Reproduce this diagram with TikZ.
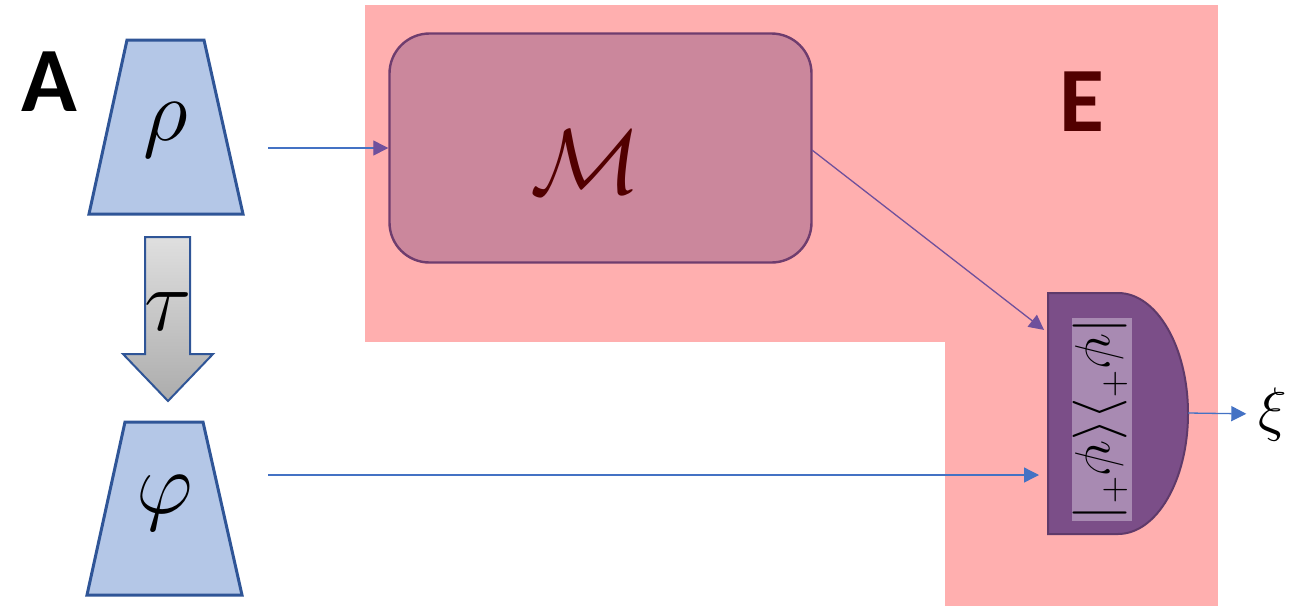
\RequirePackage{fix-cm}
\documentclass[tikz,border=0pt]{standalone}
\usepackage{fontspec}
\newfontfamily\labelfont{Carlito}
\usetikzlibrary{arrows.meta}

\definecolor{regionpink}{HTML}{FFAFAF}
\definecolor{trapfill}{HTML}{B4C7E7}
\definecolor{trapline}{HTML}{2F5597}
\definecolor{mapfill}{HTML}{CB879C}
\definecolor{mapline}{HTML}{6F3D6E}
\definecolor{deepred}{HTML}{520000}
\definecolor{detfill}{HTML}{7B4E88}
\definecolor{detline}{HTML}{5F3A6A}
\definecolor{detinner}{HTML}{A88AB2}
\definecolor{wireblue}{HTML}{4472C4}
\definecolor{wirepurple}{HTML}{6F509C}

\tikzset{
  source/.style={draw=trapline, line width=1.5pt, fill=trapfill, line join=miter},
  symbol/.style={inner sep=0pt, font=\fontsize{44}{44}\selectfont},
  wire/.style={draw=wireblue, line width=0.65pt, -{Triangle[length=7.5pt,width=7.5pt]}},
  pwire/.style={draw=wirepurple, line width=0.65pt, -{Triangle[length=7.5pt,width=7.5pt,color=wirepurple]}},
  panel/.style={inner sep=0pt, font=\labelfont\bfseries\fontsize{46}{46}\selectfont},
}

\begin{document}
\begin{tikzpicture}[x=0.5pt,y=-0.5pt]
\useasboundingbox (0,0) rectangle (1296,606);

% shaded region E
\fill[regionpink] (365,5) rectangle (1218,342);
\fill[regionpink] (945,342) rectangle (1218,606);

% panel letters
\node[panel] (labA) at (49,82) {A};
\node[panel, text=deepred] (labE) at (1082,102) {E};

% state preparations
\path[source] (127,40) -- (204,40) -- (243,214) -- (89,214) -- cycle;
\node[symbol] (rho) at (166,130) {$\rho$};
\path[source] (125,422) -- (203,422) -- (242,595) -- (87,595) -- cycle;
\node[symbol] (phi) at (165,503) {$\varphi$};

% transformation tau
\path[draw=trapline, line width=1pt, top color=gray!25, bottom color=gray!65]
  (145,237) -- (190,237) -- (190,354) -- (213,354) -- (168,401) -- (123,354) -- (145,354) -- cycle;
\node[symbol] (tau) at (168,312) {$\tau$};

% map M
\node[draw=mapline, line width=1.2pt, fill=mapfill, rounded corners=20pt,
      minimum width=211pt, minimum height=114.5pt] (map) at (600.5,148) {};
\node[symbol, text=deepred, font=\fontsize{46}{46}\selectfont] (mlabel) at (586,162) {$\mathcal{M}$};

% detector
\path[draw=detline, line width=1pt, fill=detfill]
  (1048,293) -- (1118,293) arc[start angle=-90, end angle=90, x radius=70, y radius=120.5]
  -- (1048,534) -- cycle;
\node[fill=detinner, minimum width=30pt, minimum height=101.5pt, inner sep=0pt] (proj) at (1101.5,419.5) {};
\node[rotate=-90, inner sep=0pt, font=\fontsize{27}{27}\selectfont] (projtext) at (1100,419.5)
  {$|\psi^{+}\rangle\langle\psi^{+}|$};
\coordinate (detin) at (1048,333);
\coordinate (detleft) at (1048,475);
\coordinate (detout) at (1188,413);

% outcome
\node[symbol, font=\fontsize{30}{30}\selectfont] (xi) at (1273,414) {$\xi$};

% connectors
\coordinate (rhoout) at (268,148);
\coordinate (phiout) at (268,475);
\coordinate (mapout) at (812,150);
\draw[wire, -{Triangle[length=7.5pt,width=7.5pt,color=wirepurple]}] (rhoout) -- (map.west);
\draw[pwire, shorten >=2.5pt] (mapout) -- (detin);
\draw[wire, shorten >=4.5pt] (phiout) -- (detleft);
\draw[wire, shorten >=6pt] (detout) -- (xi.west);
\end{tikzpicture}
\end{document}
